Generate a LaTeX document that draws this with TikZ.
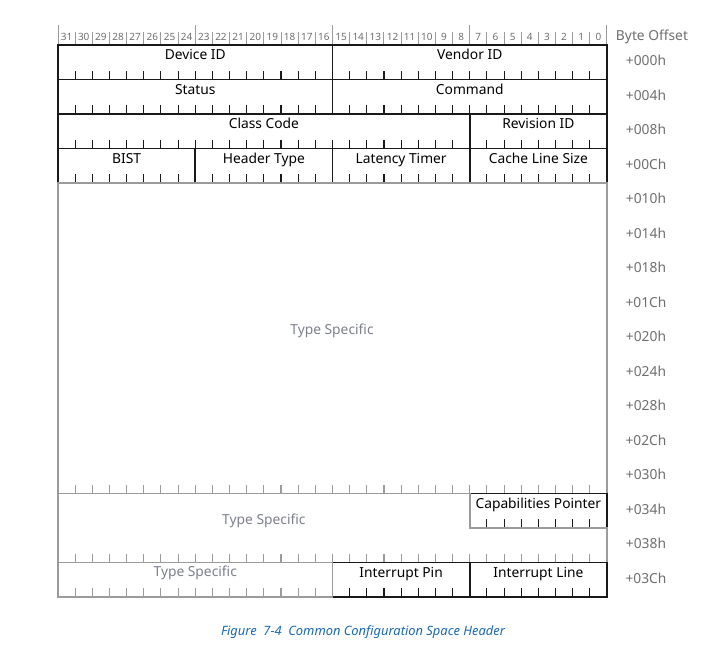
\documentclass[tikz,border=0pt]{standalone}
\usepackage{fontspec}
\setmainfont{Noto Sans}
\usepackage{xcolor}
\definecolor{regblack}{RGB}{25,25,25}
\definecolor{rulegray}{RGB}{155,155,155}
\definecolor{numgray}{RGB}{110,110,110}
\definecolor{specgray}{RGB}{125,128,140}
\definecolor{figblue}{RGB}{25,105,180}

% left edge of bit #1, top edge of dword row #1
\newcommand{\bitx}[1]{(58+(31-(#1))*17.156)}
\newcommand{\rowy}[1]{(45+(#1)*34.5)}

% ticks on the bottom of row #1-1, bits #2..#3, colour #4
\newcommand{\regticks}[4]{%
  \pgfmathtruncatemacro\tfirst{#3+1}
  \foreach \b in {\tfirst,...,#2}
    \draw[regtick,#4] ({\bitx{\b-1}},{\rowy{#1}}) -- ++(0,-9);
}
% #1 name, #2 row, #3 msb, #4 lsb, #5 text
\newcommand{\regbox}[5]{%
  \draw[regline] ({\bitx{#3}},{\rowy{#2}}) rectangle ({\bitx{#4-1}},{\rowy{#2+1}});
  \regticks{#2+1}{#3}{#4}{regblack}
  \node[regtext] (#1) at ({(\bitx{#3}+\bitx{#4-1})/2},{\rowy{#2}+14.5}) {#5};
}

\begin{document}
\begin{tikzpicture}[x=1pt,y=-1pt,line join=miter,
  regline/.style={regblack,line width=1.6pt},
  grayline/.style={rulegray,line width=1.6pt},
  regtick/.style={line width=1.1pt},
  regtext/.style={font=\fontsize{13.8}{16}\selectfont,text=black,anchor=base,inner sep=0pt},
  spectext/.style={regtext,text=specgray},
  offtext/.style={font=\fontsize{13.8}{16}\selectfont,text=numgray,anchor=base,inner sep=0pt},
  bitnum/.style={font=\fontsize{10}{12}\selectfont,text=numgray,anchor=base,inner sep=0pt}]
  \useasboundingbox (0,0) rectangle (716,657);

  % bit numbers
  \foreach \k in {0,...,32}{
    \pgfmathsetmacro\htop{mod(\k,8)==0 ? 25 : 32}
    \draw[rulegray,line width=1pt] ({58+\k*17.156},45) -- ({58+\k*17.156},\htop);
  }
  \foreach \b in {0,...,31}
    \node[bitnum] (bit\b) at ({\bitx{\b}+8.58},40.5) {\b};
  \node[offtext] (byteoff) at (652,40) {Byte Offset};

  % header registers
  \regbox{devid}{0}{31}{16}{Device ID}
  \regbox{vendid}{0}{15}{0}{Vendor ID}
  \regbox{status}{1}{31}{16}{Status}
  \regbox{command}{1}{15}{0}{Command}
  \regbox{classcode}{2}{31}{8}{Class Code}
  \regbox{revid}{2}{7}{0}{Revision ID}
  \regbox{bist}{3}{31}{24}{BIST}
  \regbox{hdrtype}{3}{23}{16}{Header Type}
  \regbox{lattimer}{3}{15}{8}{Latency Timer}
  \regbox{linesize}{3}{7}{0}{Cache Line Size}

  % type specific area
  \draw[grayline] ({\bitx{31}},{\rowy{4}}) rectangle ({\bitx{-1}},{\rowy{13}});
  \regticks{13}{31}{0}{rulegray}
  \node[spectext] (typespec) at (332,334) {Type Specific};

  \regbox{cappointer}{13}{7}{0}{Capabilities Pointer}
  \draw[grayline] ({\bitx{31}},{\rowy{13}}) -- ({\bitx{7}},{\rowy{13}})
    -- ({\bitx{7}},{\rowy{14}}) -- ({\bitx{-1}},{\rowy{14}})
    -- ({\bitx{-1}},{\rowy{15}}) -- ({\bitx{31}},{\rowy{15}}) -- cycle;
  \regticks{15}{31}{0}{rulegray}
  \node[spectext] (typespeclow) at ({(\bitx{31}+\bitx{7})/2},524.5) {Type Specific};

  \regbox{intpin}{15}{15}{8}{Interrupt Pin}
  \regbox{intline}{15}{7}{0}{Interrupt Line}
  \draw[grayline] ({\bitx{31}},{\rowy{15}}) rectangle ({\bitx{15}},{\rowy{16}});
  \regticks{16}{31}{16}{rulegray}
  \node[spectext] (typespeclast) at ({(\bitx{31}+\bitx{15})/2},{\rowy{15}+14}) {Type Specific};

  % byte offsets
  \foreach \r/\o in {0/000h,1/004h,2/008h,3/00Ch,4/010h,5/014h,6/018h,7/01Ch,
      8/020h,9/024h,10/028h,11/02Ch,12/030h,13/034h,14/038h,15/03Ch}
    \node[offtext] (off\r) at (646,{\rowy{\r}+20.5}) {+\o};

  \node[font=\fontsize{12.9}{15}\selectfont\itshape,text=figblue,anchor=base]
    (caption) at (363,635) {Figure\ \ 7-4\ \ Common Configuration Space Header};
\end{tikzpicture}
\end{document}
